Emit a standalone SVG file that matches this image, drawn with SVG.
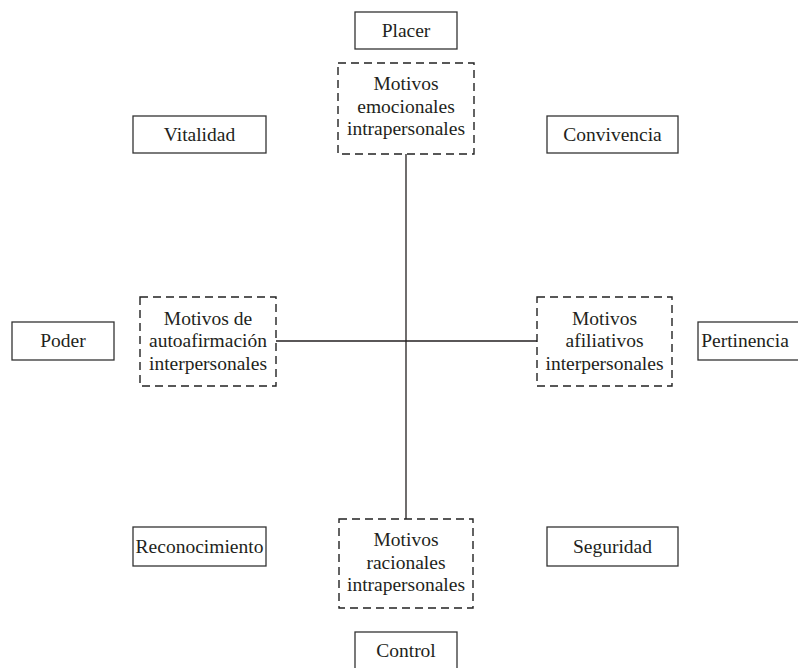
<svg xmlns="http://www.w3.org/2000/svg" width="798" height="668" viewBox="0 0 798 668">
<style>
.box{fill:#fff;stroke:#333;stroke-width:1.3}
.dash{fill:#fff;stroke:#222;stroke-width:1.4;stroke-dasharray:8 5}
.t{font-family:"Liberation Serif","Times New Roman",serif;font-size:19.5px;fill:#231f20;text-anchor:middle}
.ln{stroke:#231f20;stroke-width:1.3;fill:none}
</style>
<rect width="798" height="668" fill="#fff"/>
<g id="connectors">
<line class="ln" x1="406" y1="154" x2="406" y2="519"/>
<line class="ln" x1="276" y1="341" x2="537" y2="341"/>
</g>
<g id="placer"><rect class="box" x="355" y="12" width="102" height="37"/><text class="t" x="406" y="36.5">Placer</text></g>
<g id="control"><rect class="box" x="355" y="632" width="102" height="40"/><text class="t" x="406" y="656.5">Control</text></g>
<g id="vitalidad"><rect class="box" x="133" y="116" width="133" height="37"/><text class="t" x="199.5" y="140.5">Vitalidad</text></g>
<g id="convivencia"><rect class="box" x="547" y="116" width="131" height="37"/><text class="t" x="612.5" y="140.5">Convivencia</text></g>
<g id="reconocimiento"><rect class="box" x="133" y="527" width="133" height="39"/><text class="t" x="199.5" y="552.5">Reconocimiento</text></g>
<g id="seguridad"><rect class="box" x="547" y="527" width="131" height="39"/><text class="t" x="612.5" y="552.5">Seguridad</text></g>
<g id="poder"><rect class="box" x="12" y="322" width="102" height="38"/><text class="t" x="63" y="347">Poder</text></g>
<g id="pertinencia"><rect class="box" x="698" y="322" width="104" height="38"/><text class="t" x="745" y="347">Pertinencia</text></g>
<g id="emocionales"><rect class="dash" x="338" y="63" width="136" height="91"/><text class="t" x="406" y="90">Motivos</text><text class="t" x="406" y="112.5">emocionales</text><text class="t" x="406" y="135">intrapersonales</text></g>
<g id="racionales"><rect class="dash" x="339" y="519" width="134" height="89"/><text class="t" x="406" y="546">Motivos</text><text class="t" x="406" y="568.5">racionales</text><text class="t" x="406" y="591">intrapersonales</text></g>
<g id="autoafirmacion"><rect class="dash" x="140" y="297" width="136" height="89"/><text class="t" x="208" y="324.5">Motivos de</text><text class="t" x="208" y="347">autoafirmación</text><text class="t" x="208" y="369.5">interpersonales</text></g>
<g id="afiliativos"><rect class="dash" x="537" y="297" width="135" height="89"/><text class="t" x="604.5" y="324.5">Motivos</text><text class="t" x="604.5" y="347">afiliativos</text><text class="t" x="604.5" y="369.5">interpersonales</text></g>
</svg>
